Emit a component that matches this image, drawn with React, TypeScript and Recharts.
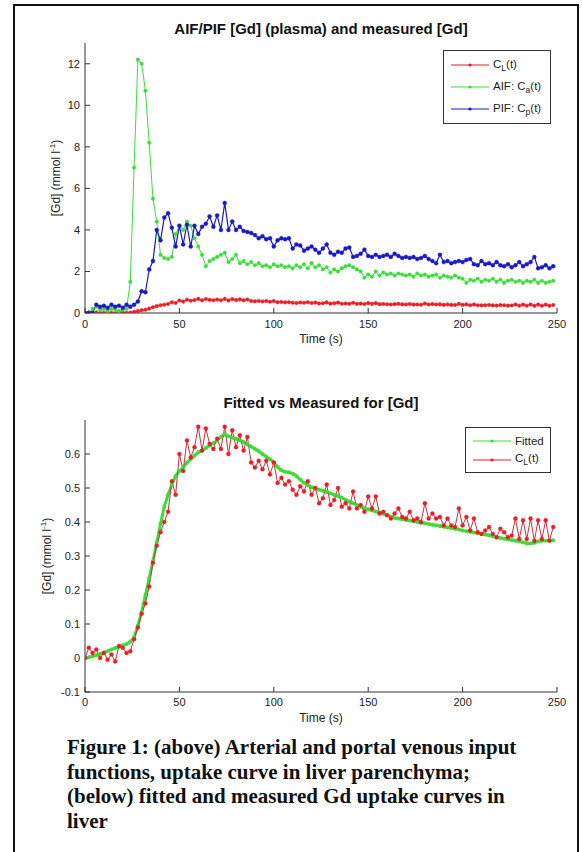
import React from "react";
import { LineChart, Line, XAxis, YAxis, Legend } from "recharts";

// time axis (s), shared by every series
const TIME = [
  0, 2, 4, 6, 8, 10, 12, 14, 16, 18,
  20, 22, 24, 26, 28, 30, 32, 34, 36, 38,
  40, 42, 44, 46, 48, 50, 52, 54, 56, 58,
  60, 62, 64, 66, 68, 70, 72, 74, 76, 78,
  80, 82, 84, 86, 88, 90, 92, 94, 96, 98,
  100, 102, 104, 106, 108, 110, 112, 114, 116, 118,
  120, 122, 124, 126, 128, 130, 132, 134, 136, 138,
  140, 142, 144, 146, 148, 150, 152, 154, 156, 158,
  160, 162, 164, 166, 168, 170, 172, 174, 176, 178,
  180, 182, 184, 186, 188, 190, 192, 194, 196, 198,
  200, 202, 204, 206, 208, 210, 212, 214, 216, 218,
  220, 222, 224, 226, 228, 230, 232, 234, 236, 238,
  240, 242, 244, 246, 248,
];

// measured liver uptake C_L(t), mmol/l
const CL = [
  0.0, 0.03, 0.015, 0.025, 0.0, 0.015, -0.005, 0.01, -0.01, 0.035,
  0.03, 0.015, 0.02, 0.055, 0.09, 0.13, 0.16, 0.21, 0.28, 0.33,
  0.37, 0.4, 0.43, 0.52, 0.48, 0.6, 0.55, 0.64, 0.59, 0.62,
  0.68, 0.61, 0.675, 0.63, 0.615, 0.645, 0.615, 0.68, 0.6, 0.67,
  0.62, 0.655, 0.61, 0.65, 0.575, 0.56, 0.58, 0.555, 0.58, 0.54,
  0.575, 0.515, 0.53, 0.51, 0.52, 0.495, 0.48, 0.505, 0.49, 0.52,
  0.48, 0.5, 0.455, 0.47, 0.51, 0.45, 0.465, 0.5, 0.445, 0.455,
  0.44, 0.49, 0.44, 0.45, 0.43, 0.475, 0.44, 0.475, 0.425, 0.43,
  0.42, 0.41, 0.425, 0.44, 0.415, 0.41, 0.43, 0.405, 0.41, 0.4,
  0.455, 0.41, 0.425, 0.41, 0.415, 0.39, 0.41, 0.39, 0.385, 0.44,
  0.39, 0.415, 0.375, 0.41, 0.37, 0.365, 0.375, 0.385, 0.365, 0.355,
  0.38, 0.37, 0.355, 0.36, 0.41, 0.35, 0.405, 0.35, 0.41, 0.345,
  0.405, 0.35, 0.405, 0.345, 0.385,
];

// fitted model curve
const FIT = [
  0.0, 0.002, 0.005, 0.008, 0.012, 0.016, 0.02, 0.025, 0.029, 0.033,
  0.037, 0.041, 0.048, 0.06, 0.095, 0.135, 0.185, 0.235, 0.285, 0.34,
  0.395, 0.445, 0.48, 0.51, 0.535, 0.55, 0.56, 0.575, 0.585, 0.595,
  0.605, 0.61, 0.618, 0.625, 0.632, 0.64, 0.65, 0.658, 0.652, 0.648,
  0.645, 0.64, 0.635, 0.628, 0.622, 0.615, 0.608, 0.6, 0.592, 0.585,
  0.575, 0.562, 0.552, 0.548, 0.546, 0.542, 0.535, 0.525, 0.515, 0.508,
  0.502, 0.498, 0.495, 0.492, 0.488, 0.484, 0.48, 0.476, 0.472, 0.465,
  0.46, 0.455, 0.45, 0.445, 0.44, 0.437, 0.434, 0.431, 0.428, 0.424,
  0.42, 0.416, 0.412, 0.41, 0.408, 0.406, 0.404, 0.402, 0.4, 0.398,
  0.396, 0.394, 0.392, 0.39, 0.388, 0.386, 0.384, 0.382, 0.38, 0.378,
  0.375, 0.373, 0.371, 0.369, 0.367, 0.365, 0.363, 0.361, 0.358, 0.355,
  0.353, 0.351, 0.349, 0.347, 0.345, 0.343, 0.34, 0.337, 0.337, 0.339,
  0.343, 0.345, 0.345, 0.346, 0.346,
];

// arterial input function C_a(t)
const AIF = [
  0.0, 0.0, 0.2, 0.3, 0.15, 0.2, 0.1, 0.2, 0.15, 0.1,
  0.15, 0.2, 1.5, 7.0, 12.2, 12.0, 10.7, 8.2, 5.5, 4.4,
  2.8, 2.65, 2.6, 2.7, 3.8, 4.2, 4.0, 4.4, 4.2, 3.6,
  3.2, 2.8, 2.25, 2.5, 2.6, 2.7, 2.8, 2.9, 2.45, 2.6,
  2.8, 2.4, 2.5, 2.35, 2.45, 2.3, 2.4, 2.25, 2.3, 2.2,
  2.35, 2.25, 2.3, 2.2, 2.25, 2.15, 2.3, 2.2, 2.35, 2.15,
  2.4, 2.2, 2.3, 2.1, 2.2, 1.95, 2.1, 2.0, 2.15, 2.25,
  2.3, 2.2, 2.1, 2.0, 1.7, 1.85, 1.75, 2.0, 1.8, 1.95,
  1.85, 1.9, 1.8, 1.9, 1.85, 1.8, 1.85, 1.75, 1.9, 1.8,
  1.85, 1.75, 1.8, 1.85, 1.7, 1.8, 1.75, 1.7, 1.8, 1.7,
  1.65, 1.45, 1.6, 1.55, 1.65, 1.5, 1.6, 1.55, 1.65, 1.5,
  1.6, 1.45, 1.55, 1.6, 1.5, 1.55, 1.45, 1.55, 1.5, 1.6,
  1.45, 1.55, 1.45, 1.5, 1.55,
];

// portal venous input function C_p(t)
const PIF = [
  0.0, 0.0, 0.0, 0.4, 0.3, 0.35, 0.25, 0.4, 0.3, 0.35,
  0.25, 0.4, 0.3, 0.4, 0.55, 1.05, 1.0, 2.1, 2.5, 4.0,
  3.5, 4.6, 4.8, 4.1, 3.2, 4.2, 3.3, 4.25, 3.2, 4.2,
  3.8, 4.15, 4.3, 4.65, 4.15, 4.7, 4.0, 5.3, 4.0, 4.4,
  4.0, 4.15, 3.95, 3.9, 3.85, 3.75, 3.6, 3.7, 3.55, 3.6,
  3.2, 3.5, 3.6, 3.55, 3.6, 3.1, 3.3, 3.25, 3.0, 3.1,
  3.2, 3.05, 2.9, 3.1, 3.3, 2.9, 2.8, 2.95, 2.9, 3.1,
  3.15, 2.7, 2.75, 2.85, 3.05, 2.75, 2.7, 2.8, 2.7, 2.75,
  2.8, 2.7, 2.85, 2.75, 2.65, 2.7, 2.65, 2.7, 2.6, 2.65,
  2.75, 2.6, 2.5, 2.4, 2.8, 2.45, 2.5, 2.4, 2.45, 2.5,
  2.45, 2.55, 2.6, 2.35, 2.3, 2.5, 2.35, 2.4, 2.3, 2.45,
  2.3, 2.25, 2.35, 2.2, 2.3, 2.45, 2.25, 2.35, 2.45, 2.7,
  2.15, 2.2, 2.3, 2.15, 2.25,
];

const X_TICKS = [0, 50, 100, 150, 200, 250];
const Y_TICKS_TOP = [0, 2, 4, 6, 8, 10, 12];
const Y_TICKS_BOTTOM = [-0.1, 0, 0.1, 0.2, 0.3, 0.4, 0.5, 0.6];

const RED = "#ee1c24";
const GREEN = "#3ade3a";
const BLUE = "#1a1ac4";
const AXIS = "#333";
const FONT = "'Liberation Sans', Arial, sans-serif";

const data = TIME.map((t, i) => ({ t, cl: CL[i], fit: FIT[i], aif: AIF[i], pif: PIF[i] }));

const tickStyle = { fill: "#222", fontSize: 11, fontFamily: FONT };
const fmt = (v: number) => String(Math.round(v * 10) / 10);

type LegendItem = { color: string; label: React.ReactNode };

function LegendBox({ items, rowHeight, lineWidth }: { items: LegendItem[]; rowHeight: number; lineWidth: number }) {
  return (
    <div style={{ border: "1px solid #333", background: "#fff", padding: "3px 6px 3px 7px", fontFamily: FONT, fontSize: 11.5, color: "#222" }}>
      {items.map((it, i) => (
        <div key={i} style={{ display: "flex", alignItems: "center", height: rowHeight }}>
          <svg width={lineWidth} height={8} style={{ marginRight: 4 }}>
            <line x1={0} y1={4} x2={lineWidth} y2={4} stroke={it.color} strokeWidth={1} />
            <circle cx={lineWidth / 2} cy={4} r={1.6} fill={it.color} />
          </svg>
          <span>{it.label}</span>
        </div>
      ))}
    </div>
  );
}

const Sub = ({ c }: { c: string }) => (
  <sub style={{ fontSize: 8.5, verticalAlign: "-3px" }}>{c}</sub>
);

// top / right box axes only carry inward ticks
const noLabel = () => <g />;

const titleStyle: React.CSSProperties = {
  position: "absolute", left: 85, width: 472, textAlign: "center",
  fontFamily: FONT, fontWeight: "bold", fontSize: 15, color: "#111",
};
const xLabelStyle: React.CSSProperties = {
  position: "absolute", left: 85, width: 472, textAlign: "center",
  fontFamily: FONT, fontSize: 12, color: "#222",
};
const yLabelStyle: React.CSSProperties = {
  position: "absolute", transform: "translate(-50%, -50%) rotate(-90deg)", whiteSpace: "nowrap",
  fontFamily: FONT, fontSize: 12, color: "#222",
};

export default function App() {
  const dot = (color: string, r = 1.8) => ({ r, fill: color, stroke: color, strokeWidth: 0.4 });

  return (
    <div style={{ position: "absolute", left: 0, top: 0, width: 582, height: 852, background: "#fff", overflow: "hidden" }}>
      {/* outer frame */}
      <div style={{ position: "absolute", left: 13, top: 4, width: 562, height: 870, border: "2px solid #111" }} />

      {/* top plot */}
      <div style={{ position: "absolute", left: 0, top: 0 }}>
        <LineChart width={582} height={350} data={data} margin={{ top: 43, right: 25, bottom: 7, left: 55 }}>
          <XAxis dataKey="t" type="number" domain={[0, 250]} ticks={X_TICKS} allowDataOverflow height={30}
            tickSize={-5} tickMargin={12} tick={tickStyle} stroke={AXIS} interval={0} />
          <XAxis xAxisId="top" orientation="top" dataKey="t" type="number" domain={[0, 250]} ticks={X_TICKS}
            allowDataOverflow height={0} tickSize={-5} tick={noLabel} stroke={AXIS} interval={0} />
          <YAxis type="number" domain={[0, 13]} ticks={Y_TICKS_TOP} allowDataOverflow width={30}
            tickSize={-5} tickMargin={10} tick={tickStyle} stroke={AXIS} interval={0} />
          <YAxis yAxisId="right" orientation="right" type="number" domain={[0, 13]} ticks={Y_TICKS_TOP}
            allowDataOverflow width={0} tickSize={-5} tick={noLabel} stroke={AXIS} interval={0} />
          <Line dataKey="cl" stroke={RED} strokeWidth={1} dot={dot(RED)} isAnimationActive={false} />
          <Line dataKey="aif" stroke={GREEN} strokeWidth={1} dot={dot(GREEN)} isAnimationActive={false} />
          <Line dataKey="pif" stroke={BLUE} strokeWidth={1.2} dot={dot(BLUE, 2)} isAnimationActive={false} />
          <Legend layout="vertical" align="center" verticalAlign="middle"
            wrapperStyle={{ left: 443, top: 50, width: 108 }}
            content={() => (
              <LegendBox rowHeight={22} lineWidth={38} items={[
                { color: RED, label: <>C<Sub c="L" />(t)</> },
                { color: GREEN, label: <>AIF: C<Sub c="a" />(t)</> },
                { color: BLUE, label: <>PIF: C<Sub c="p" />(t)</> },
              ]} />
            )} />
        </LineChart>
      </div>

      {/* bottom plot */}
      <div style={{ position: "absolute", left: 0, top: 380 }}>
        <LineChart width={582} height={350} data={data} margin={{ top: 40, right: 25, bottom: 8, left: 55 }}>
          <XAxis dataKey="t" type="number" domain={[0, 250]} ticks={X_TICKS} allowDataOverflow height={30}
            tickSize={-5} tickMargin={11} tick={tickStyle} stroke={AXIS} interval={0} />
          <XAxis xAxisId="top" orientation="top" dataKey="t" type="number" domain={[0, 250]} ticks={X_TICKS}
            allowDataOverflow height={0} tickSize={-5} tick={noLabel} stroke={AXIS} interval={0} />
          <YAxis type="number" domain={[-0.1, 0.7]} ticks={Y_TICKS_BOTTOM} allowDataOverflow width={30}
            tickSize={-5} tickMargin={10} tick={tickStyle} tickFormatter={fmt} stroke={AXIS} interval={0} />
          <YAxis yAxisId="right" orientation="right" type="number" domain={[-0.1, 0.7]} ticks={Y_TICKS_BOTTOM}
            allowDataOverflow width={0} tickSize={-5} tick={noLabel} stroke={AXIS} interval={0} />
          <Line dataKey="fit" stroke={GREEN} strokeWidth={3} dot={dot(GREEN, 1.8)} isAnimationActive={false} />
          <Line dataKey="cl" stroke="#c8323a" strokeWidth={1} dot={dot(RED, 2)} isAnimationActive={false} />
          <Legend layout="vertical" align="center" verticalAlign="middle"
            wrapperStyle={{ left: 465, top: 47, width: 86 }}
            content={() => (
              <LegendBox rowHeight={19} lineWidth={38} items={[
                { color: GREEN, label: "Fitted" },
                { color: RED, label: <>C<Sub c="L" />(t)</> },
              ]} />
            )} />
        </LineChart>
      </div>

      {/* titles and axis labels */}
      <div style={{ ...titleStyle, top: 20 }}>AIF/PIF [Gd] (plasma) and measured [Gd]</div>
      <div style={{ ...xLabelStyle, top: 332 }}>Time (s)</div>
      <div style={{ ...yLabelStyle, left: 55, top: 178 }}>
        [Gd] (mmol l<sup style={{ fontSize: 8 }}>-1</sup>)
      </div>

      <div style={{ ...titleStyle, top: 394 }}>Fitted vs Measured for [Gd]</div>
      <div style={{ ...xLabelStyle, top: 711 }}>Time (s)</div>
      <div style={{ ...yLabelStyle, left: 46, top: 556 }}>
        [Gd] (mmol l<sup style={{ fontSize: 8 }}>-1</sup>)
      </div>

      {/* caption */}
      <div style={{ position: "absolute", left: 67, top: 735, fontFamily: "'Liberation Serif', 'Times New Roman', serif", fontWeight: "bold", fontSize: 21, lineHeight: "24.6px", color: "#111" }}>
        Figure 1: (above) Arterial and portal venous input<br />
        functions, uptake curve in liver parenchyma;<br />
        (below) fitted and measured Gd uptake curves in<br />
        liver
      </div>
    </div>
  );
}
